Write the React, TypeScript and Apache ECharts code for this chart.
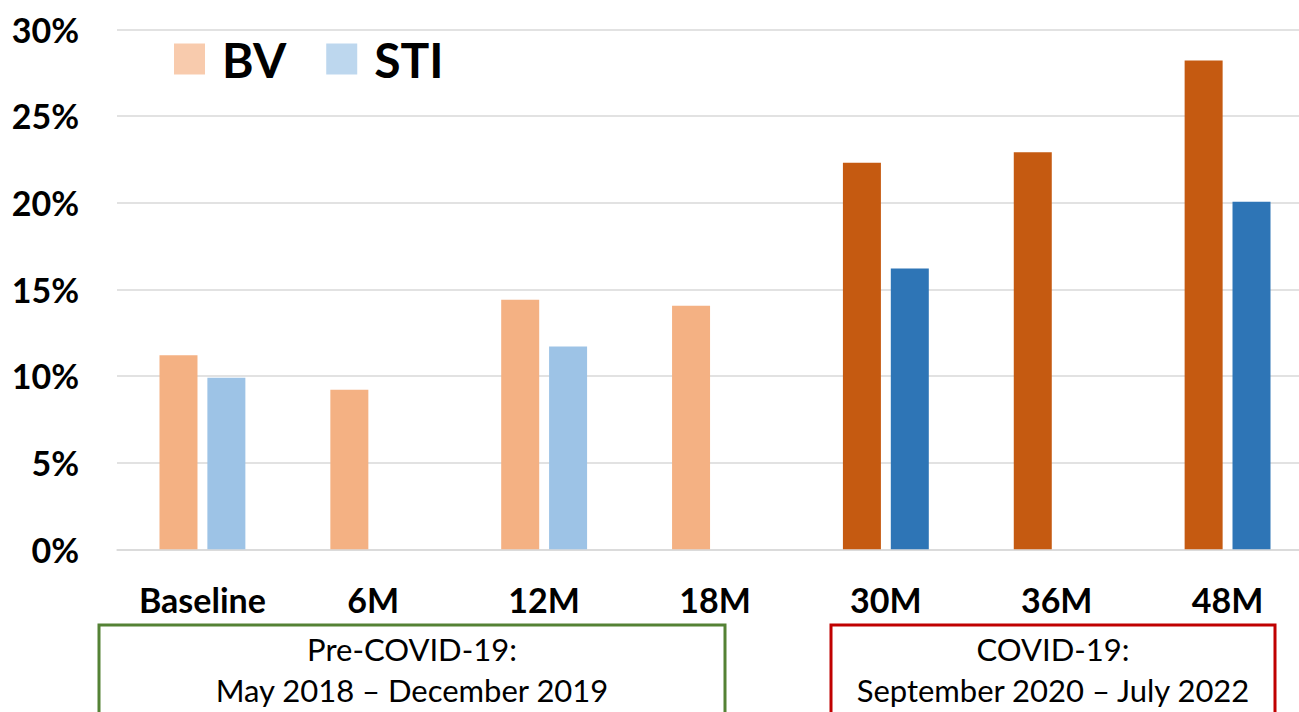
import React, { useEffect, useRef } from "react";
import * as echarts from "echarts";

const categories = ["Baseline", "6M", "12M", "18M", "30M", "36M", "48M"];
const bvValues = [11.2, 9.2, 14.4, 14.05, 22.3, 22.9, 28.2];
const stiValues: (number | null)[] = [9.9, null, 11.7, null, 16.2, null, 20.05];
const covidPeriod = [false, false, false, false, true, true, true];
const yTicks = [0, 5, 10, 15, 20, 25, 30];

const BV_LIGHT = "#F4B183";
const BV_DARK = "#C55A11";
const STI_LIGHT = "#9DC3E6";
const STI_DARK = "#2E75B6";

export default function App() {
  const ref = useRef<HTMLDivElement>(null);
  useEffect(() => {
    if (!ref.current) return;
    const chart = echarts.init(ref.current, null, { renderer: "svg" });
    const font = "Lato, 'Noto Sans', sans-serif";
    const boxText = (text: string, x: number, y: number) => ({
      type: "text",
      x,
      y,
      style: {
        text,
        fontFamily: font,
        fontSize: 31,
        fill: "#000",
        align: "center",
        verticalAlign: "bottom",
      },
    });
    chart.setOption({
      animation: false,
      backgroundColor: "#ffffff",
      grid: { left: 117, right: 0, top: 29.3, bottom: 162.7 },
      legend: {
        left: 169,
        top: 30,
        itemWidth: 31,
        itemHeight: 31,
        itemGap: 40,
        icon: "rect",
        selectedMode: false,
        textStyle: {
          fontFamily: font,
          fontWeight: "bold",
          fontSize: 48,
          color: "#000",
          padding: [0, 0, 0, 12],
        },
        data: [
          { name: "BV", itemStyle: { color: "#F8CBAD" } },
          { name: "STI", itemStyle: { color: "#BDD7EE" } },
        ],
      },
      xAxis: {
        type: "category",
        data: categories,
        axisTick: { show: false },
        axisLine: { lineStyle: { color: "#D9D9D9", width: 1.5 } },
        axisLabel: {
          fontFamily: font,
          fontWeight: "bold",
          fontSize: 34,
          color: "#000",
          margin: 33,
        },
      },
      yAxis: {
        type: "value",
        min: 0,
        max: 30,
        interval: 5,
        axisLine: { show: false },
        axisTick: { show: false },
        splitLine: { lineStyle: { color: "#D9D9D9", width: 1.5 } },
        axisLabel: {
          fontFamily: font,
          fontWeight: "bold",
          fontSize: 34,
          color: "#000",
          margin: 38,
          formatter: (v: number) => (yTicks.includes(v) ? v + "%" : ""),
        },
      },
      series: [
        {
          name: "BV",
          type: "bar",
          barWidth: 38,
          barGap: "26%",
          itemStyle: { color: BV_LIGHT },
          data: bvValues.map((v, i) => ({
            value: v,
            itemStyle: { color: covidPeriod[i] ? BV_DARK : BV_LIGHT },
          })),
        },
        {
          name: "STI",
          type: "bar",
          barWidth: 38,
          barGap: "26%",
          itemStyle: { color: STI_LIGHT },
          data: stiValues.map((v, i) => ({
            value: v,
            itemStyle: { color: covidPeriod[i] ? STI_DARK : STI_LIGHT },
          })),
        },
      ],
      graphic: [
        {
          type: "rect",
          shape: { x: 99, y: 625, width: 626, height: 120 },
          style: { fill: "none", stroke: "#548235", lineWidth: 3 },
        },
        boxText("Pre-COVID-19:", 412, 664),
        boxText("May 2018 – December 2019", 412, 705),
        {
          type: "rect",
          shape: { x: 831, y: 625, width: 444, height: 120 },
          style: { fill: "none", stroke: "#C00000", lineWidth: 3 },
        },
        boxText("COVID-19:", 1053, 664),
        boxText("September 2020 – July 2022", 1053, 705),
      ],
    });
    return () => chart.dispose();
  }, []);
  return (
    <div
      style={{
        position: "absolute",
        left: 0,
        top: 0,
        width: 1299,
        height: 712,
        overflow: "hidden",
      }}
    >
      <div ref={ref} style={{ width: 1313, height: 712 }} />
    </div>
  );
}
